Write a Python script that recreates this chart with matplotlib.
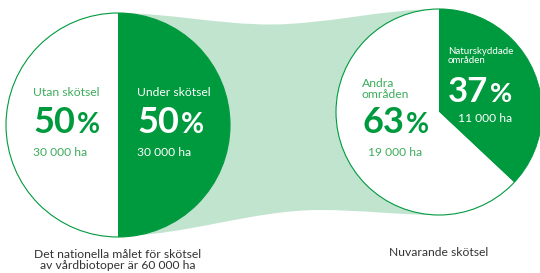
import matplotlib.pyplot as plt
from matplotlib.patches import Circle, PathPatch
from matplotlib.path import Path

# data
goal_labels = ["Under skötsel", "Utan skötsel"]
goal_share = [50, 50]
goal_area = ["30 000 ha", "30 000 ha"]
current_labels = ["Naturskyddade\nområden", "Andra\nområden"]
current_share = [37, 63]
current_area = ["11 000 ha", "19 000 ha"]
captions = ["Det nationella målet för skötsel\nav vårdbiotoper är 60 000 ha", "Nuvarande skötsel"]

DARK = "#009a3e"
LIGHT = "#c1e4cf"
TEXTG = "#3dac5b"
GREY = "#333333"

W, H = 540, 273
plt.rcParams["font.family"] = ["Lato", "DejaVu Sans"]

fig = plt.figure(figsize=(W / 100, H / 100), dpi=100)
ax = fig.add_axes([0, 0, 1, 1])
ax.set_xlim(0, W)
ax.set_ylim(0, H)
ax.axis("off")


def Y(y):
    # pixel rows from top -> data y
    return H - y


c1, r1 = (118, Y(125)), 112
c2, r2 = (439, Y(112)), 103

# band between the two circles
verts = [
    (117, Y(13)),
    (168, Y(13)), (219, Y(24.5)), (270, Y(24.5)),
    (326, Y(24.5)), (383, Y(9)), (439, Y(9)),
    (439, Y(215)),
    (399, Y(215)), (360, Y(210)), (320, Y(210)),
    (252, Y(210)), (185, Y(236)), (117, Y(236)),
    (117, Y(13)),
]
codes = [Path.MOVETO] + [Path.CURVE4] * 6 + [Path.LINETO] + [Path.CURVE4] * 6 + [Path.CLOSEPOLY]
ax.add_patch(PathPatch(Path(verts, codes), facecolor=LIGHT, edgecolor="none", zorder=1))

ax.pie(goal_share, center=c1, radius=r1, startangle=90, counterclock=False,
       colors=[DARK, "white"], wedgeprops=dict(linewidth=0, zorder=2), frame=True)
ax.pie(current_share, center=c2, radius=r2, startangle=90, counterclock=False,
       colors=[DARK, "white"], wedgeprops=dict(linewidth=0, zorder=2), frame=True)
for c, r in [(c1, r1), (c2, r2)]:
    ax.add_patch(Circle(c, r, facecolor="none", edgecolor=DARK, lw=0.8, zorder=3))
ax.set_xlim(0, W)
ax.set_ylim(0, H)
ax.set_aspect("equal")
ax.axis("off")

fig.canvas.draw()
inv = ax.transData.inverted()


def percent(x, y, value, color, size=26):
    t = ax.text(x, Y(y), str(value), fontsize=size, fontweight="bold", color=color,
                ha="left", va="baseline", zorder=5)
    bb = t.get_window_extent(fig.canvas.get_renderer())
    xe = inv.transform((bb.x1, 0))[0]
    ax.text(xe + 2, Y(y), "%", fontsize=size * 0.78, fontweight="bold", color=color,
            ha="left", va="baseline", zorder=5)


# left circle texts
ax.text(33, Y(92), goal_labels[1], fontsize=8.7, color=TEXTG, ha="left", va="center")
percent(33, 133, goal_share[1], DARK)
ax.text(33, Y(153), goal_area[1], fontsize=8.7, color=TEXTG, ha="left", va="center")

ax.text(137, Y(92), goal_labels[0], fontsize=8.7, color="white", ha="left", va="center", zorder=5)
percent(137, 133, goal_share[0], "white")
ax.text(137, Y(153), goal_area[0], fontsize=8.7, color="white", ha="left", va="center", zorder=5)

# right circle texts
ax.text(362, Y(89), current_labels[1], fontsize=8.7, color=TEXTG, ha="left", va="center",
        linespacing=0.95, zorder=5)
percent(362, 133, current_share[1], DARK)
ax.text(368, Y(153), current_area[1], fontsize=8.7, color=TEXTG, ha="left", va="center", zorder=5)

ax.text(448, Y(56), current_labels[0], fontsize=7, color="white", ha="left", va="center",
        linespacing=0.95, zorder=5)
percent(448, 102, current_share[0], "white", size=25)
ax.text(458, Y(118), current_area[0], fontsize=8.7, color="white", ha="left", va="center", zorder=5)

# captions
ax.text(118, Y(260), captions[0], fontsize=8.7, color=GREY, ha="center", va="center", linespacing=1.05)
ax.text(439, Y(253), captions[1], fontsize=8.7, color=GREY, ha="center", va="center")

fig.savefig("out.png", dpi=100)
